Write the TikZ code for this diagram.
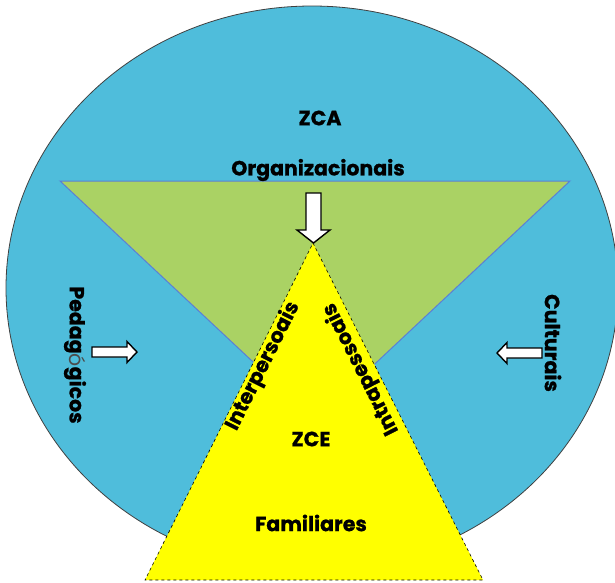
\documentclass[tikz,border=0pt]{standalone}
\usepackage{fontspec}
\setmainfont{Poppins}[BoldFeatures={FakeBold=1}]
\definecolor{zcablue}{RGB}{79,189,219}
\definecolor{zgreen}{RGB}{170,210,100}
\definecolor{zedge}{RGB}{91,127,214}
\definecolor{zyellow}{RGB}{255,255,0}
\tikzset{
  lbl/.style={font=\bfseries\fontsize{20.5}{22}\selectfont, inner sep=0pt, text=black},
  arrowbox/.style={draw=black, fill=white, line width=1.4pt, line join=miter},
}
\begin{document}
\begin{tikzpicture}[x=1pt,y=-1pt]
\useasboundingbox (0,0) rectangle (615,582);
% outer ellipse
\fill[zcablue] (312,288) ellipse [x radius=306, y radius=282];
\draw[black!75, line width=0.8pt] (312,288) ellipse [x radius=306, y radius=282];
% green inverted triangle
\draw[zedge, line width=1pt, fill=zgreen, line join=miter] (60,181) -- (570,181) -- (315,420) -- cycle;
% yellow triangle
\draw[fill=zyellow, draw=black, dashed, line width=0.6pt] (313,243) -- (483,580) -- (145,580) -- cycle;
% arrows
\draw[arrowbox] (306,193) -- (321,193) -- (321,230) -- (330,230) -- (313.5,243) -- (297,230) -- (306,230) -- cycle;
\draw[arrowbox] (92,347) -- (127,347) -- (127,341.5) -- (137,352) -- (127,362.5) -- (127,357) -- (92,357) -- cycle;
\draw[arrowbox] (542,348) -- (507,348) -- (507,342.5) -- (497,353) -- (507,363.5) -- (507,358) -- (542,358) -- cycle;
% labels
\node[lbl] (zca) at (320,118) {ZCA};
\node[lbl] (org) at (318,170) {Organizacionais};
\node[lbl, rotate=-90] (ped) at (75,355) {Pedag{\mdseries\color{black!70}ó}gicos};
\node[lbl, rotate=-90] (cult) at (553,343) {Culturais};
\node[lbl, rotate=63.5] (inter) at (263,366) {Interpersoais};
\node[lbl, rotate=116.8] (intra) at (361,369) {Intrapessoais};
\node[lbl] (zce) at (311,439) {ZCE};
\node[lbl] (fam) at (311,523) {Familiares};
\end{tikzpicture}
\end{document}
